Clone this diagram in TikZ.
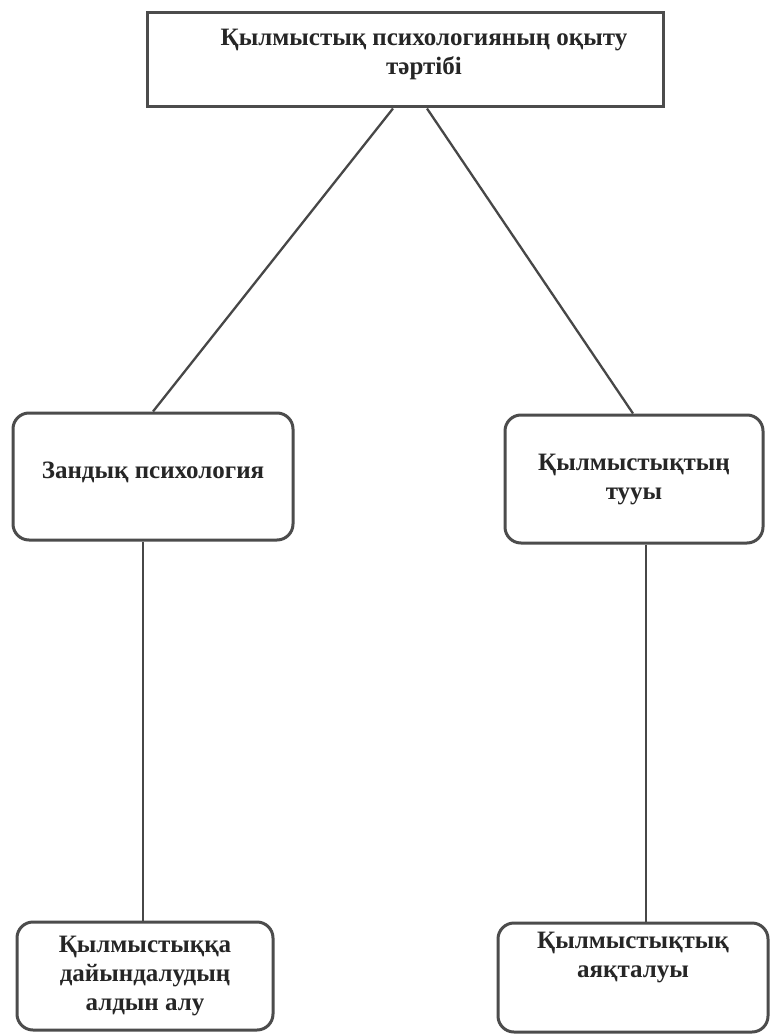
\documentclass[tikz,border=0pt]{standalone}
\usepackage{fontspec}
\setmainfont{Liberation Serif}
\newcommand{\stk}[1]{\begin{tabular}{@{}c@{}}#1\end{tabular}}
\begin{document}
\begin{tikzpicture}[x=1pt,y=-1pt,
  boxline/.style={draw=black!70,line width=3pt},
  conn/.style={draw=black!72,line width=2.3pt},
  txt/.style={font=\fontsize{25}{29}\selectfont\bfseries,text=black!85,inner sep=0pt},
  topbox/.style={boxline,txt,rectangle},
  rbox/.style={boxline,txt,rectangle,rounded corners=16pt}]
\useasboundingbox (0,0) rectangle (770,1035);
\fill[white] (0,0) rectangle (770,1035);
\node[topbox,minimum width=516pt,minimum height=94pt] (top) at (405,60)
  {\raisebox{6pt}[\height][\depth]{\begin{tabular}{@{\hspace{38pt}}c@{}}Қылмыстық психологияның оқыту\\тәртібі\end{tabular}}};
\node[rbox,minimum width=280pt,minimum height=127pt] (zl) at (153,476.5)
  {\raisebox{4pt}[\height][\depth]{Зандық психология}};
\node[rbox,minimum width=258pt,minimum height=128pt] (rt) at (634,479)
  {\stk{Қылмыстықтың\\тууы}};
\node[rbox,minimum width=256pt,minimum height=108pt] (bl) at (145,976)
  {\stk{Қылмыстыққа\\дайындалудың\\алдын алу}};
\node[rbox,minimum width=270pt,minimum height=109pt] (br) at (633,977.5)
  {\raisebox{20pt}[\height][\depth]{\stk{Қылмыстықтық\\аяқталуы}}};
\draw[conn] ([xshift=-12pt]top.south) -- (zl.north);
\draw[conn] ([xshift=22pt]top.south) -- ([xshift=-1pt]rt.north);
\draw[conn] ([xshift=-10pt]zl.south) -- ([xshift=-10pt]zl.south |- bl.north);
\draw[conn] ([xshift=12pt]rt.south) -- ([xshift=12pt]rt.south |- br.north);
\end{tikzpicture}
\end{document}
